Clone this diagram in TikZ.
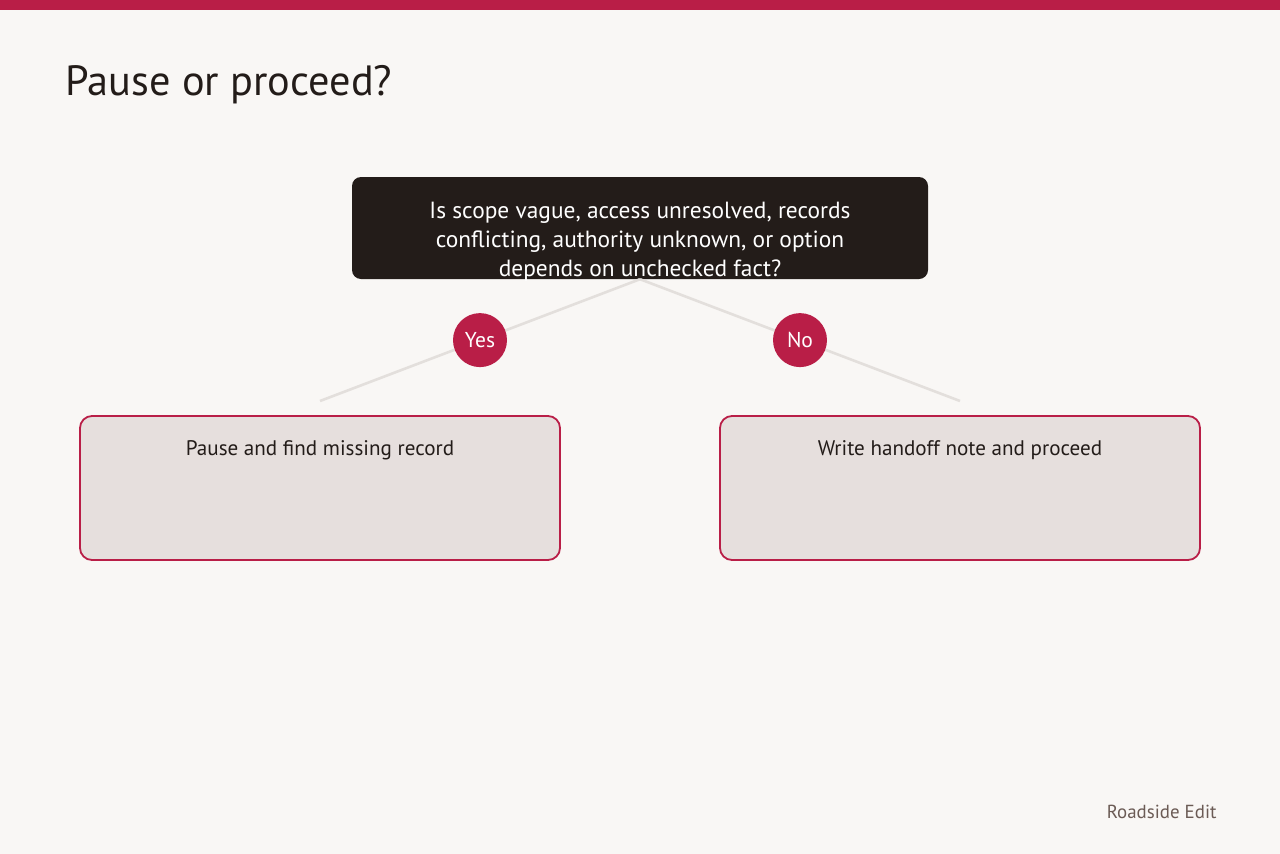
\documentclass[tikz,border=0pt]{standalone}
\usepackage{fontspec}
\setmainfont{PT Sans}
\usetikzlibrary{positioning,calc}
\definecolor{crim}{HTML}{B91E47}
\definecolor{paper}{HTML}{F9F7F5}
\definecolor{ink}{HTML}{231C19}
\definecolor{wire}{HTML}{E3DFDC}
\definecolor{boxfill}{HTML}{E6DFDD}
\definecolor{muted}{HTML}{6B5B55}
\tikzset{
  qbox/.style   ={fill=ink, rounded corners=9pt, minimum width=576pt,
                  minimum height=102pt, inner sep=0pt},
  qtxt/.style   ={text=white, align=center, anchor=base,
                  font=\fontsize{23.4}{29}\selectfont},
  leaf/.style   ={draw=crim, line width=1.8pt, fill=boxfill, rounded corners=12pt,
                  minimum width=480pt, minimum height=144pt, inner sep=0pt},
  leaftxt/.style={text=ink, font=\fontsize{21.1}{24}\selectfont, anchor=base},
  tag/.style    ={circle, fill=crim, text=white, minimum size=54pt, inner sep=0pt,
                  font=\fontsize{21.5}{24}\selectfont},
  wireln/.style ={draw=wire, line width=2.6pt},
}
\begin{document}
\begin{tikzpicture}[x=1pt, y=-1pt]
% page and top rule
\fill[paper] (0,0) rectangle (1280,854);
\fill[crim] (0,0) rectangle (1280,10);
\useasboundingbox (0,0) rectangle (1280,854);
\node[anchor=base west, text=ink, font=\fontsize{42.3}{48}\selectfont] (title) at (62,95) {Pause or proceed?};
% question
\node[qbox] (q) at (640,228) {};
\node[qtxt] (qt) at (640,276)
  {Is scope vague, access unresolved, records\\conflicting, authority unknown, or option\\depends on unchecked fact?};
% branches
\coordinate (yesend) at (320,401);
\coordinate (noend) at (960,401);
\draw[wireln] (q.south) -- (yesend) node[tag, pos=0.5] (yes) {Yes};
\draw[wireln] (q.south) -- (noend) node[tag, pos=0.5] (no) {No};
% outcomes
\node[leaf] (pause) at (320,488) {};
\node[leaf] (go) at (960,488) {};
\node[leaftxt] at ($(pause.north)+(0,40)$) {Pause and find missing record};
\node[leaftxt] at ($(go.north)+(0,40)$) {Write handoff note and proceed};
\node[anchor=base east, text=muted, font=\fontsize{18.9}{22}\selectfont] (brand) at (1220,818) {Roadside Edit};
\end{tikzpicture}
\end{document}
